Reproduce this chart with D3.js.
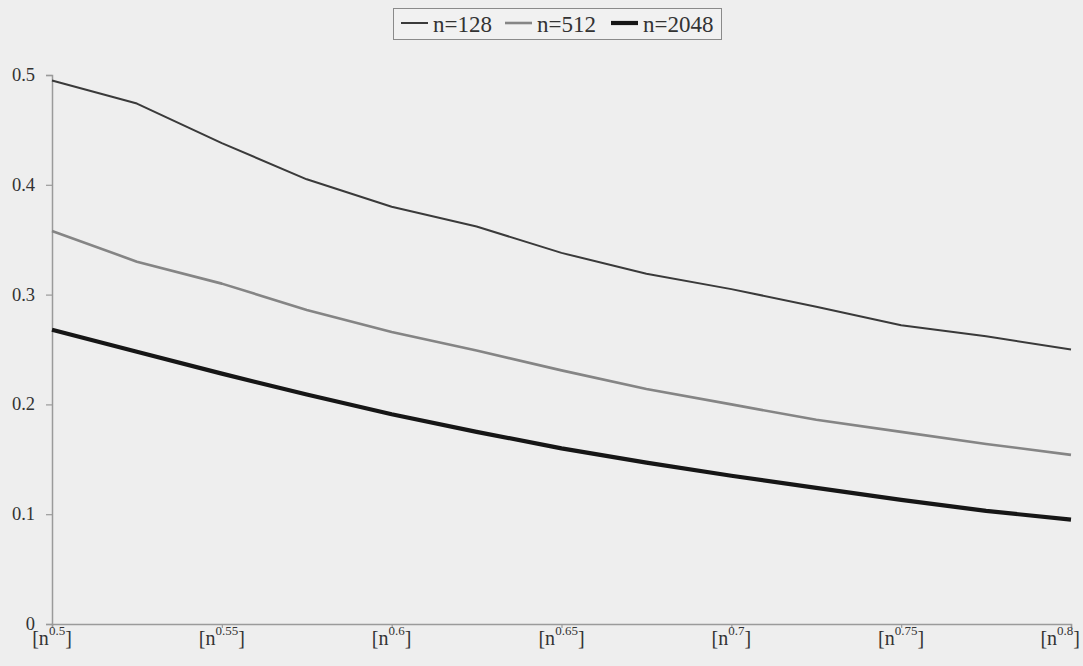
<!DOCTYPE html>
<html>
<head>
<meta charset="utf-8">
<script src="https://cdn.jsdelivr.net/npm/d3@7/dist/d3.min.js"></script>
<style>
  html, body { margin: 0; padding: 0; background: #eeeeee; }
  svg { display: block; }
  text { font-family: "Liberation Serif", "Times New Roman", serif; fill: #333; }
</style>
</head>
<body>
<svg id="chart" width="1083" height="666"></svg>
<script>
// exponent e of the threshold [n^e]
const exponents = [0.5, 0.525, 0.55, 0.575, 0.6, 0.625, 0.65, 0.675, 0.7, 0.725, 0.75, 0.775, 0.8];
const n128  = [0.495, 0.474, 0.438, 0.405, 0.380, 0.362, 0.338, 0.319, 0.305, 0.289, 0.272, 0.262, 0.250];
const n512  = [0.358, 0.330, 0.310, 0.286, 0.266, 0.249, 0.231, 0.214, 0.200, 0.186, 0.175, 0.164, 0.154];
const n2048 = [0.268, 0.248, 0.228, 0.209, 0.191, 0.175, 0.160, 0.147, 0.135, 0.124, 0.113, 0.103, 0.095];
const xTicks = [0.5, 0.55, 0.6, 0.65, 0.7, 0.75, 0.8];
const xTickSup = ["0.5", "0.55", "0.6", "0.65", "0.7", "0.75", "0.8"];
const yTicks = [0, 0.1, 0.2, 0.3, 0.4, 0.5];
const yTickLabels = ["0", "0.1", "0.2", "0.3", "0.4", "0.5"];
const seriesNames = ["n=128", "n=512", "n=2048"];

const series = [
  { name: seriesNames[0], values: n128,  color: "#3a3a3a", width: 2 },
  { name: seriesNames[1], values: n512,  color: "#858585", width: 2.6 },
  { name: seriesNames[2], values: n2048, color: "#161616", width: 4.2 }
];

const svg = d3.select("#chart");
const W = 1083;
const plotLeft = 52, plotRight = 1071, plotTop = 75, plotBottom = 624;

const x = d3.scaleLinear().domain([0.5, 0.8]).range([plotLeft, plotRight]);
const y = d3.scaleLinear().domain([0, 0.5]).range([plotBottom, plotTop]);

// y axis
const yAxis = d3.axisLeft(y).tickValues(yTicks).tickSize(6).tickPadding(11)
  .tickFormat((d, i) => yTickLabels[i]);
const gy = svg.append("g").attr("transform", `translate(${plotLeft},0)`).call(yAxis);
gy.select(".domain").attr("stroke", "#9a9a9a").attr("stroke-width", 1.5);
gy.selectAll(".tick line").attr("stroke", "#9a9a9a").attr("stroke-width", 1.2);
gy.selectAll(".tick text").attr("font-size", 18.5).attr("fill", "#333").attr("dy", "0.3em");

// x axis
const xAxis = d3.axisBottom(x).tickValues(xTicks).tickSize(4).tickFormat("");
const gx = svg.append("g").attr("transform", `translate(0,${plotBottom})`).call(xAxis);
gx.select(".domain").attr("stroke", "#9a9a9a").attr("stroke-width", 1.5);
gx.selectAll(".tick line").attr("stroke", "#9a9a9a").attr("stroke-width", 1.2);

// x tick labels of the form [n^e], kept inside the canvas
xTicks.forEach((t, i) => {
  const txt = svg.append("text")
    .attr("x", x(t))
    .attr("y", plotBottom + 21)
    .attr("text-anchor", "middle")
    .attr("font-size", 20);
  txt.append("tspan").text("[n");
  txt.append("tspan").attr("font-size", 13).attr("dy", -10).text(xTickSup[i]);
  txt.append("tspan").attr("dy", 10).text("]");
  const bb = txt.node().getBBox();
  if (bb.x + bb.width > W - 3) {
    txt.attr("text-anchor", "end").attr("x", W - 3);
  }
});

// lines
const line = d3.line()
  .x((d, i) => x(exponents[i]))
  .y(d => y(d));

series.forEach(s => {
  svg.append("path")
    .datum(s.values)
    .attr("fill", "none")
    .attr("stroke", s.color)
    .attr("stroke-width", s.width)
    .attr("stroke-linejoin", "round")
    .attr("d", line);
});

// legend
const legend = svg.append("g");
legend.append("rect")
  .attr("x", 393.5).attr("y", 8.5).attr("width", 328).attr("height", 31)
  .attr("fill", "#f1f1f1").attr("stroke", "#8a8a8a").attr("stroke-width", 1);
const legendX = [401, 505, 611];
series.forEach((s, i) => {
  legend.append("line")
    .attr("x1", legendX[i]).attr("x2", legendX[i] + 27)
    .attr("y1", 23).attr("y2", 23)
    .attr("stroke", s.color).attr("stroke-width", s.width);
  legend.append("text")
    .attr("x", legendX[i] + 32).attr("y", 32)
    .attr("font-size", 23)
    .text(s.name);
});
</script>
</body>
</html>
